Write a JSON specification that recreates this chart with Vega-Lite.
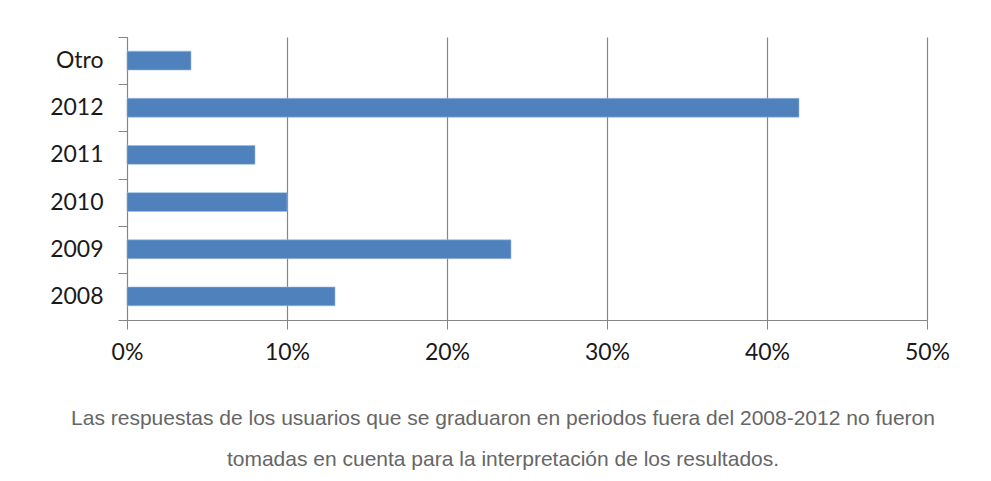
{
  "$schema": "https://vega.github.io/schema/vega-lite/v6.json",
  "width": 800,
  "height": 283,
  "autosize": {"type": "none"},
  "padding": {"left": 127, "top": 37, "right": 64, "bottom": 161},
  "background": "white",
  "data": {"values": [
    {"cat": "Otro", "val": 0.04},
    {"cat": "2012", "val": 0.42},
    {"cat": "2011", "val": 0.08},
    {"cat": "2010", "val": 0.10},
    {"cat": "2009", "val": 0.24},
    {"cat": "2008", "val": 0.13}
  ]},
  "title": {
    "text": ["Las respuestas de los usuarios que se graduaron en periodos fuera del 2008-2012 no fueron", "tomadas en cuenta para la interpretación de los resultados."],
    "orient": "bottom",
    "anchor": "middle",
    "dx": -24,
    "offset": 44,
    "font": "Liberation Sans",
    "fontSize": 21,
    "fontWeight": "normal",
    "color": "#666666",
    "lineHeight": 41
  },
  "mark": {"type": "bar", "color": "#4F81BD", "stroke": "#9dbbe0", "strokeWidth": 0.6, "height": {"band": 0.4}},
  "encoding": {
    "y": {
      "field": "cat",
      "type": "nominal",
      "sort": ["Otro", "2012", "2011", "2010", "2009", "2008"],
      "scale": {"paddingInner": 0, "paddingOuter": 0},
      "axis": {
        "title": null,
        "tickBand": "extent",
        "tickSize": 9,
        "tickColor": "#868686",
        "domainColor": "#868686",
        "labelFont": "Lato",
        "labelFontSize": 23,
        "labelColor": "#1a1a1a",
        "labelPadding": 15,
        "grid": false
      }
    },
    "x": {
      "field": "val",
      "type": "quantitative",
      "scale": {"domain": [0, 0.5]},
      "axis": {
        "title": null,
        "format": ".0%",
        "values": [0, 0.1, 0.2, 0.3, 0.4, 0.5],
        "grid": true,
        "gridColor": "#868686",
        "gridWidth": 1.2,
        "gridOpacity": 1,
        "tickSize": 9,
        "tickColor": "#868686",
        "domainColor": "#868686",
        "labelFont": "Lato",
        "labelFontSize": 23,
        "labelColor": "#1a1a1a",
        "labelPadding": 12,
        "labelFlush": false
      }
    }
  },
  "config": {"view": {"stroke": null}}
}
